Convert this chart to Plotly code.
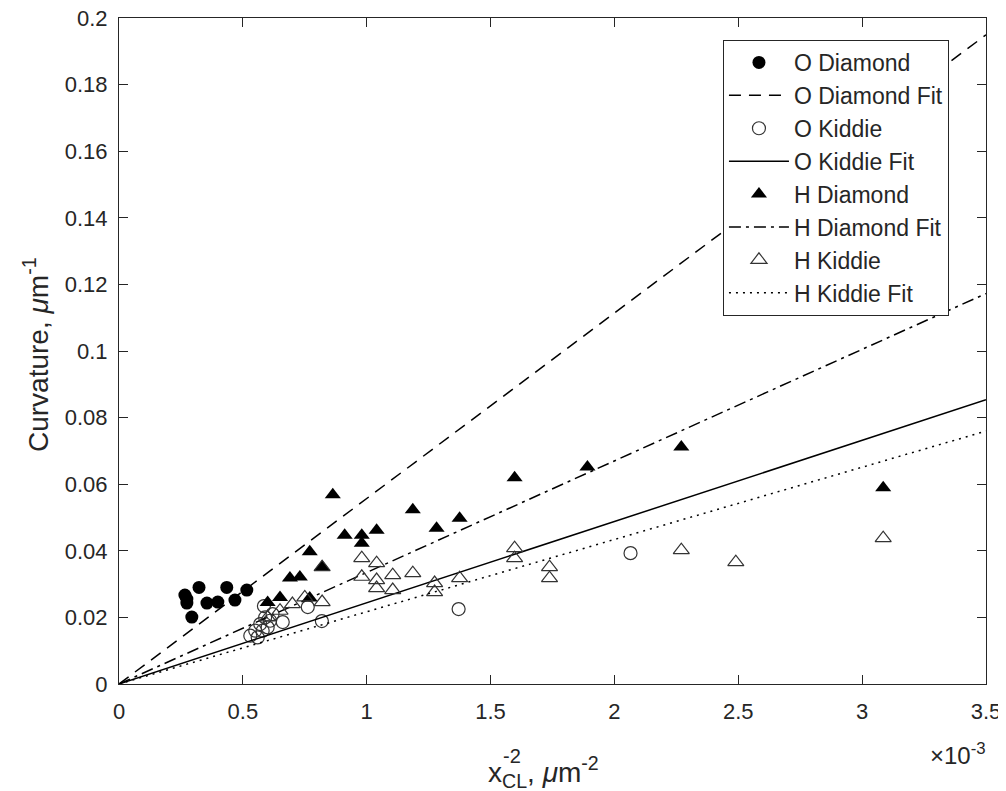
import numpy as np
import plotly.graph_objects as go

# x values in units of 1e-3 um^-2 (axis shows x10^-3 multiplier)
o_diamond_x = [0.266, 0.274, 0.274, 0.294, 0.323, 0.355, 0.399, 0.435, 0.468, 0.516]
o_diamond_y = [0.0267, 0.0243, 0.0255, 0.0201, 0.0290, 0.0243, 0.0246, 0.0290, 0.0252, 0.0282]

o_kiddie_x = [0.53, 0.55, 0.56, 0.57, 0.58, 0.59, 0.60, 0.61, 0.62, 0.585, 0.661, 0.762, 0.819, 1.371, 2.065]
o_kiddie_y = [0.0145, 0.016, 0.014, 0.018, 0.016, 0.020, 0.017, 0.019, 0.021, 0.0234, 0.0186, 0.0231, 0.0189, 0.0225, 0.0393]

h_diamond_x = [0.60, 0.65, 0.69, 0.73, 0.77, 0.77, 0.82, 0.863, 0.911, 0.98, 0.98, 1.04, 1.186, 1.282, 1.375, 1.597, 1.891, 2.27, 3.085]
h_diamond_y = [0.0245, 0.026, 0.0318, 0.0321, 0.0258, 0.0397, 0.0351, 0.0568, 0.0447, 0.0447, 0.0423, 0.0462, 0.0523, 0.0468, 0.0498, 0.0619, 0.0652, 0.0712, 0.0589]

h_kiddie_x = [0.60, 0.65, 0.70, 0.75, 0.82, 0.82, 0.98, 0.98, 1.04, 1.04, 1.04, 1.105, 1.105, 1.186, 1.274, 1.274, 1.375, 1.597, 1.597, 1.738, 1.738, 2.27, 2.49, 3.085]
h_kiddie_y = [0.020, 0.022, 0.024, 0.026, 0.0351, 0.0246, 0.0378, 0.0322, 0.0363, 0.0312, 0.0288, 0.0327, 0.0282, 0.0333, 0.0303, 0.0276, 0.0318, 0.0408, 0.0378, 0.0351, 0.0318, 0.0402, 0.0366, 0.0438]

# fitted slopes (curvature per 1e-3 um^-2)
fit_x = [0.0, 3.5]
o_diamond_slope = 0.0557
o_kiddie_slope = 0.0244
h_diamond_slope = 0.0335
h_kiddie_slope = 0.0217

x_ticks = [0, 0.5, 1, 1.5, 2, 2.5, 3, 3.5]
x_ticktext = ["0", "0.5", "1", "1.5", "2", "2.5", "3", "3.5"]
y_ticks = [0, 0.02, 0.04, 0.06, 0.08, 0.1, 0.12, 0.14, 0.16, 0.18, 0.2]
y_ticktext = ["0", "0.02", "0.04", "0.06", "0.08", "0.1", "0.12", "0.14", "0.16", "0.18", "0.2"]

FONT = "Liberation Sans, Arial, sans-serif"
TXT = "#262626"
fig = go.Figure()

def fit_y(s):
    return [s * v for v in fit_x]

fig.add_trace(go.Scatter(x=o_diamond_x, y=o_diamond_y, mode="markers", name="O Diamond", legendgroup="a",
                         marker=dict(symbol="circle", size=13, color="black", line=dict(width=0))))
fig.add_trace(go.Scatter(x=fit_x, y=fit_y(o_diamond_slope), mode="lines", name="O Diamond Fit", legendgroup="b",
                         line=dict(color="black", width=1.5, dash="12px,8px")))
fig.add_trace(go.Scatter(x=o_kiddie_x, y=o_kiddie_y, mode="markers", name="O Kiddie", legendgroup="c",
                         marker=dict(symbol="circle-open", size=13, color="#333", line=dict(width=1.2))))
fig.add_trace(go.Scatter(x=fit_x, y=fit_y(o_kiddie_slope), mode="lines", name="O Kiddie Fit", legendgroup="d",
                         line=dict(color="black", width=1.5)))
fig.add_trace(go.Scatter(x=h_diamond_x, y=h_diamond_y, mode="markers", name="H Diamond", legendgroup="e",
                         marker=dict(symbol="triangle-up", size=14, color="black", line=dict(width=0))))
fig.add_trace(go.Scatter(x=fit_x, y=fit_y(h_diamond_slope), mode="lines", name="H Diamond Fit", legendgroup="f",
                         line=dict(color="black", width=1.5, dash="12px,5px,3px,5px")))
fig.add_trace(go.Scatter(x=h_kiddie_x, y=h_kiddie_y, mode="markers", name="H Kiddie", legendgroup="g",
                         marker=dict(symbol="triangle-up-open", size=14, color="#333", line=dict(width=1.2))))
fig.add_trace(go.Scatter(x=fit_x, y=fit_y(h_kiddie_slope), mode="lines", name="H Kiddie Fit", legendgroup="h",
                         line=dict(color="black", width=1.5, dash="2px,5px")))

axis_common = dict(showline=True, linecolor=TXT, linewidth=1, mirror="ticks", ticks="inside",
                   ticklen=9, tickcolor=TXT, showgrid=False, zeroline=False, automargin=False,
                   ticklabeloverflow="allow",
                   tickfont=dict(family=FONT, size=22, color=TXT))

# page body has an 8px default margin, so margins are shifted by 8px
fig.update_layout(
    width=1006, height=783,
    margin=dict(l=111, r=28, t=10, b=107),
    paper_bgcolor="white", plot_bgcolor="white",
    font=dict(family=FONT, color=TXT),
    xaxis=dict(range=[0, 3.5], tickvals=x_ticks, ticktext=x_ticktext, ticklabelstandoff=8, **axis_common),
    yaxis=dict(range=[0, 0.2], tickvals=y_ticks, ticktext=y_ticktext, ticklabelstandoff=6, **axis_common),
    legend=dict(x=0.6966, y=0.967, xanchor="left", yanchor="top",
                bgcolor="white", bordercolor=TXT, borderwidth=1,
                font=dict(family=FONT, size=23, color=TXT),
                tracegroupgap=0, itemwidth=60),
    showlegend=True,
)

def px_x(p):
    return (p - 119) / 867.0

def px_y(p):
    return (684 - p) / 666.0

# y-axis title
fig.add_annotation(x=px_x(36), y=px_y(355), xref="paper", yref="paper", textangle=-90,
                   xanchor="center", yanchor="middle", showarrow=False,
                   text="Curvature, <i>μ</i>m<sup>-1</sup>", font=dict(family=FONT, size=28, color=TXT))
# x-axis title: x with stacked sub/superscript
fig.add_annotation(x=px_x(486), y=px_y(772), xref="paper", yref="paper",
                   xanchor="left", yanchor="middle", showarrow=False,
                   text="x<sub>CL</sub>, <i>μ</i>m<sup>-2</sup>", font=dict(family=FONT, size=28, color=TXT))
fig.add_annotation(x=px_x(501), y=px_y(756), xref="paper", yref="paper",
                   xanchor="left", yanchor="middle", showarrow=False,
                   text="-2", font=dict(family=FONT, size=20, color=TXT))
# exponent multiplier
fig.add_annotation(x=px_x(988), y=px_y(754), xref="paper", yref="paper", xanchor="right", yanchor="middle",
                   text="×10<sup>-3</sup>", showarrow=False, font=dict(family=FONT, size=24, color=TXT))

fig.write_html("out.html")
